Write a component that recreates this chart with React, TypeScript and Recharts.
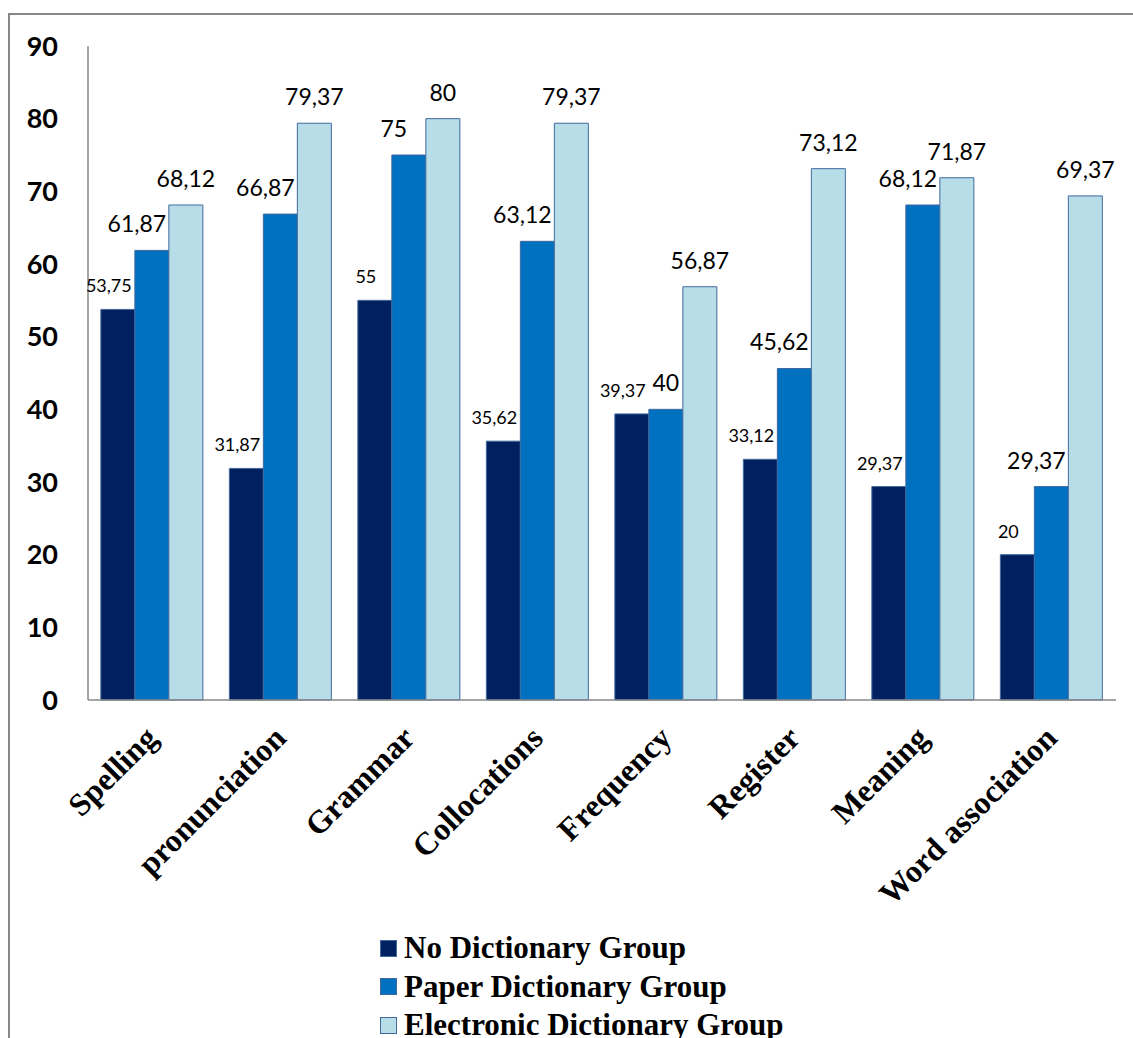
import { BarChart, Bar, XAxis, YAxis, Legend, LabelList } from 'recharts';

const categories = [
  'Spelling', 'pronunciation', 'Grammar', 'Collocations',
  'Frequency', 'Register', 'Meaning', 'Word association',
];
const noDictionary = [53.75, 31.87, 55, 35.62, 39.37, 33.12, 29.37, 20];
const paperDictionary = [61.87, 66.87, 75, 63.12, 40, 45.62, 68.12, 29.37];
const electronicDictionary = [68.12, 79.37, 80, 79.37, 56.87, 73.12, 71.87, 69.37];
const yTicks = [0, 10, 20, 30, 40, 50, 60, 70, 80, 90];

const seriesNames = ['No Dictionary Group', 'Paper Dictionary Group', 'Electronic Dictionary Group'];
const seriesColors = ['#002060', '#0070C0', '#B7DEE8'];
const outline = '#41699E';

const data = categories.map((name, i) => ({
  name,
  none: noDictionary[i],
  paper: paperDictionary[i],
  electronic: electronicDictionary[i],
}));

const fmt = (v: number) => String(v).replace('.', ',');

// paper labels sit a bit to the left, unless the bar next to them is about as tall
const paperShift = (i: number) => (Math.abs(paperDictionary[i] - noDictionary[i]) < 3 ? 0 : -15);

const makeLabel = (fontSize: number, gap: number, shift: (i: number) => number) => (props: any) => {
  const { x, y, width, value, index } = props;
  return (
    <text
      x={x + width / 2 + shift(index)}
      y={y - gap}
      textAnchor="middle"
      fontFamily="Lato, 'Open Sans', sans-serif"
      fontSize={fontSize}
      fill="#000"
    >
      {fmt(value)}
    </text>
  );
};

const XTick = ({ x, y, payload }: any) => {
  const ax = x + 7;
  const ay = y + 40;
  return (
    <text
      x={ax}
      y={ay}
      transform={`rotate(-45 ${ax} ${ay})`}
      textAnchor="end"
      fontFamily="'Liberation Serif', 'Times New Roman', serif"
      fontWeight="bold"
      fontSize={32}
      fill="#000"
    >
      {payload.value}
    </text>
  );
};

const renderLegend = () => (
  <div style={{ fontFamily: "'Liberation Serif', 'Times New Roman', serif", fontWeight: 'bold', fontSize: 31, color: '#000' }}>
    {seriesNames.map((name, i) => (
      <div key={name} style={{ display: 'flex', alignItems: 'center', height: 38.5, whiteSpace: 'nowrap' }}>
        <span
          style={{
            display: 'inline-block',
            width: 15,
            height: 15,
            background: seriesColors[i],
            border: `1px solid ${outline}`,
            marginRight: 7,
          }}
        />
        {name}
      </div>
    ))}
  </div>
);

export default function App() {
  return (
    <div style={{ position: 'fixed', left: 0, top: 0, width: 1133, height: 1038, overflow: 'hidden', background: '#fff' }}>
      <div
        style={{
          position: 'absolute',
          left: 8,
          top: 13,
          width: 1160,
          height: 1100,
          border: '2px solid #878787',
        }}
      />
      <div style={{ position: 'absolute', left: 0, top: 0 }}>
        <BarChart
          width={1133}
          height={1038}
          data={data}
          margin={{ top: 46, right: 17, bottom: 88, left: 0 }}
          barCategoryGap="10%"
          barGap={0}
        >
          <XAxis
            dataKey="name"
            height={250}
            axisLine={{ stroke: '#878787', strokeWidth: 1.5 }}
            tickLine={false}
            tickSize={0}
            tickMargin={0}
            interval={0}
            tick={<XTick />}
          />
          <YAxis
            width={88}
            domain={[0, 90]}
            ticks={yTicks}
            axisLine={{ stroke: '#878787', strokeWidth: 1.5 }}
            tickLine={false}
            tickSize={0}
            tickMargin={30}
            tick={{ fontFamily: "Lato, 'Open Sans', sans-serif", fontWeight: 'bold', fontSize: 27, fill: '#000' }}
          />
          <Legend
            layout="vertical"
            align="center"
            verticalAlign="middle"
            content={renderLegend}
            wrapperStyle={{ left: 380, top: 929, width: 560 }}
          />
          <Bar dataKey="none" name={seriesNames[0]} fill={seriesColors[0]} stroke={outline} strokeWidth={1} isAnimationActive={false}>
            <LabelList dataKey="none" content={makeLabel(18, 17, () => -9)} />
          </Bar>
          <Bar dataKey="paper" name={seriesNames[1]} fill={seriesColors[1]} stroke={outline} strokeWidth={1} isAnimationActive={false}>
            <LabelList dataKey="paper" content={makeLabel(23, 18, paperShift)} />
          </Bar>
          <Bar dataKey="electronic" name={seriesNames[2]} fill={seriesColors[2]} stroke={outline} strokeWidth={1} isAnimationActive={false}>
            <LabelList dataKey="electronic" content={makeLabel(23, 18, () => 0)} />
          </Bar>
        </BarChart>
      </div>
    </div>
  );
}
